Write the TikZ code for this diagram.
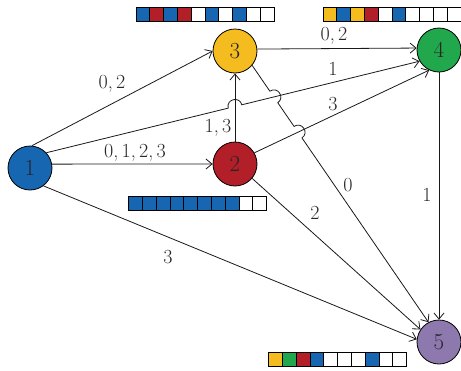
\documentclass[tikz,border=0pt]{standalone}
\usetikzlibrary{arrows.meta,calc,intersections}

\definecolor{cblue}{HTML}{1766B2}
\definecolor{cred}{HTML}{B31F29}
\definecolor{cyellow}{HTML}{F5BC1F}
\definecolor{cgreen}{HTML}{22A84C}
\definecolor{cpurple}{HTML}{8E79AF}
\definecolor{cwhite}{HTML}{FFFFFF}

\tikzset{
  vertex/.style={circle, draw=black, line width=0.8pt, minimum size=44pt,
    inner sep=0pt, font=\fontsize{23}{26}\selectfont, text=black!85},
  edge/.style={draw=black!90, line width=0.8pt,
    -{Straight Barb[length=6pt,width=10pt]}},
  lbl/.style={inner sep=0pt, font=\fontsize{20}{23}\selectfont, text=black!85},
  cell/.style={draw=black, line width=0.8pt},
}

\begin{document}
\begin{tikzpicture}[x=1pt, y=-1pt]
\useasboundingbox (0,0) rectangle (461,370);

% vertices
\node[vertex, fill=cblue]   (n1) at (30,168)  {1};
\node[vertex, fill=cred]    (n2) at (235,164) {2};
\node[vertex, fill=cyellow] (n3) at (235,51)  {3};
\node[vertex, fill=cgreen]  (n4) at (439,50)  {4};
\node[vertex, fill=cpurple] (n5) at (439,342) {5};

% crossing points for the line hops
\path[name path=p14] (n1.43) -- (n4.210);
\path[name path=p23] (n2.north) -- (n3.south);
\path[name path=p24] (n2.30) -- (n4.244);
\path[name path=p35] (n3.-40) -- (n5.118);
\path[name intersections={of=p14 and p23, by=ha}];
\path[name intersections={of=p35 and p14, by=hb}];
\path[name intersections={of=p35 and p24, by=hc}];
\coordinate (ha1) at ($(ha)!7pt!(n1.43)$);
\coordinate (ha2) at ($(ha)!7pt!(n4.210)$);
\coordinate (hb1) at ($(hb)!7pt!(n3.-40)$);
\coordinate (hb2) at ($(hb)!7pt!(n5.118)$);
\coordinate (hc1) at ($(hc)!7pt!(n3.-40)$);
\coordinate (hc2) at ($(hc)!7pt!(n5.118)$);

% connectors
\draw[edge] (n1.85) -- (n3.west);
\draw[edge] (n1.10) -- (n2.west);
\draw[edge] (n1.-53) -- (n5.173);
\draw[edge] (n2.north) -- (n3.south);
\draw[edge] (n2.30) -- (n4.244);
\draw[edge] (n2.-40) -- (n5.146);
\draw[edge] (n3.5) -- (n4.175);
\draw[edge] (n4.south) -- (n5.north);
\draw[edge] (n1.43) -- (ha1)
  .. controls ($(ha1)!9.3pt!90:(ha)$) and ($(ha2)!9.3pt!-90:(ha)$) .. (ha2)
  -- (n4.210);
\draw[edge] (n3.-40) -- (hb1)
  .. controls ($(hb1)!9.3pt!90:(hb)$) and ($(hb2)!9.3pt!-90:(hb)$) .. (hb2)
  -- (hc1)
  .. controls ($(hc1)!9.3pt!90:(hc)$) and ($(hc2)!9.3pt!-90:(hc)$) .. (hc2)
  -- (n5.118);

% connector labels
\node[lbl] (l13) at (112,84)  {0,\,2};
\node[lbl] (l14) at (333,69)  {1};
\node[lbl] (l12) at (135,153) {0,\,1,\,2,\,3};
\node[lbl] (l15) at (168,257) {3};
\node[lbl] (l34) at (334,36)  {0,\,2};
\node[lbl] (l35) at (348,185) {0};
\node[lbl] (l23) at (218,128) {1,\,3};
\node[lbl] (l24) at (333,104) {3};
\node[lbl] (l25) at (315,213) {2};
\node[lbl] (l45) at (427,195) {1};

% state arrays
\foreach \c [count=\i from 0] in {cblue,cred,cblue,cred,cwhite,cblue,cwhite,cblue,cwhite,cwhite}
  \draw[cell, fill=\c] (136+\i*13.8,7.5) rectangle ++(13.8,14);
\foreach \c [count=\i from 0] in {cyellow,cblue,cyellow,cred,cwhite,cblue,cwhite,cwhite,cwhite,cwhite}
  \draw[cell, fill=\c] (323+\i*13.8,7.5) rectangle ++(13.8,14);
\foreach \c [count=\i from 0] in {cblue,cblue,cblue,cblue,cblue,cblue,cblue,cblue,cwhite,cwhite}
  \draw[cell, fill=\c] (128.5+\i*13.8,196.5) rectangle ++(13.8,14);
\foreach \c [count=\i from 0] in {cyellow,cgreen,cred,cblue,cwhite,cwhite,cwhite,cblue,cwhite,cwhite}
  \draw[cell, fill=\c] (268.5+\i*13.8,352) rectangle ++(13.8,14);
\end{tikzpicture}
\end{document}
